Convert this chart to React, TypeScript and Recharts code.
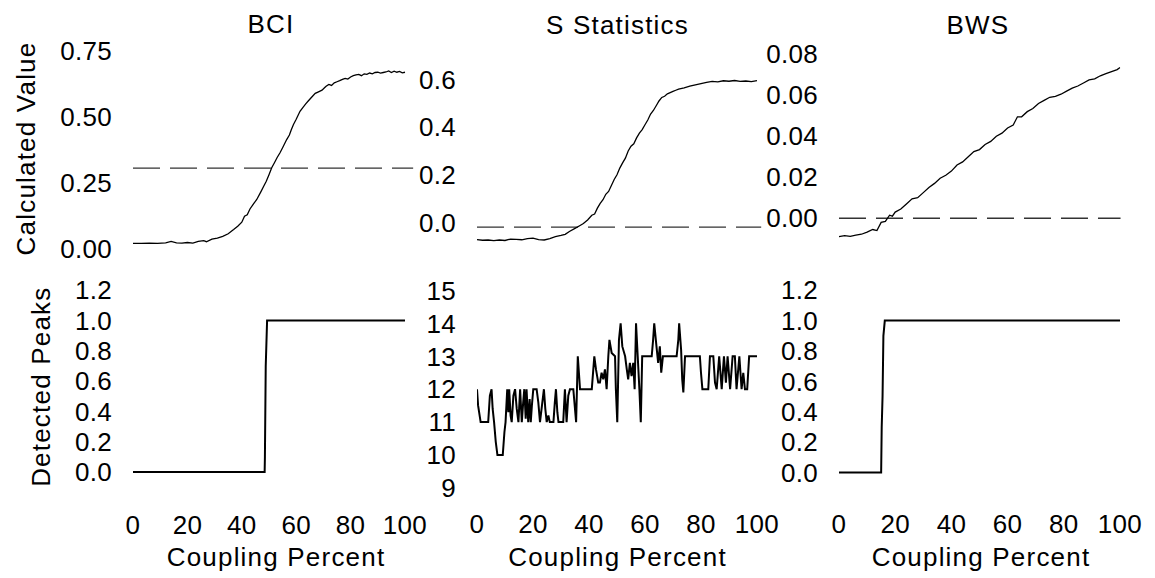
import React from 'react';
import { LineChart, Line, XAxis, YAxis, ReferenceLine } from 'recharts';

// ---------- data ----------
const couplingTicks = [0, 20, 40, 60, 80, 100];

const bciValue: [number, number][] = [
  [0, 0.02], [3, 0.02], [6, 0.021], [9, 0.02], [12, 0.022], [14, 0.027], [16, 0.022], [18, 0.021],
  [20, 0.023], [22, 0.021], [24, 0.027], [26, 0.03], [27, 0.026], [29, 0.036], [31, 0.04], [33, 0.046],
  [35, 0.056], [37, 0.072], [38.5, 0.085], [40, 0.1], [41, 0.123], [42, 0.128], [43, 0.15], [44.5, 0.172],
  [45.5, 0.186], [47, 0.215], [48, 0.235], [49, 0.255], [50, 0.28], [51, 0.306], [52, 0.325], [53, 0.345],
  [54, 0.362], [55, 0.382], [56.5, 0.413], [57.5, 0.43], [58.2, 0.45], [59, 0.47], [60, 0.49], [61.4, 0.52],
  [62.5, 0.535], [63.5, 0.548], [64.5, 0.56], [66, 0.577], [67, 0.588], [68, 0.593], [69.5, 0.6], [70.5, 0.61],
  [71, 0.615], [72, 0.622], [73, 0.618], [74, 0.628], [75, 0.632], [76, 0.636], [77, 0.641], [78, 0.645],
  [79, 0.642], [80, 0.65], [81, 0.655], [82, 0.658], [83, 0.66], [84, 0.655], [85, 0.662], [86, 0.66],
  [87, 0.665], [88, 0.662], [89, 0.667], [90, 0.668], [91, 0.665], [92, 0.667], [93, 0.669], [94, 0.673],
  [95, 0.667], [96, 0.672], [97, 0.668], [98, 0.671], [99, 0.666], [100, 0.668],
];
const bciThreshold = 0.305;

const sValue: [number, number][] = [
  [0, -0.072], [2, -0.075], [4, -0.074], [6, -0.077], [8, -0.074], [10, -0.076], [12, -0.07], [14, -0.071],
  [16, -0.073], [18, -0.068], [20, -0.066], [22, -0.072], [24, -0.074], [26, -0.068], [28, -0.06], [30, -0.055],
  [31.5, -0.05], [33, -0.038], [35, -0.025], [36.5, -0.015], [38, -0.005], [39.5, 0.01], [41, 0.03], [42, 0.035],
  [43, 0.06], [44, 0.08], [45, 0.095], [46, 0.118], [47, 0.13], [48, 0.155], [49, 0.18], [50, 0.2],
  [51, 0.228], [52, 0.25], [53, 0.27], [54, 0.3], [55, 0.32], [56, 0.33], [57, 0.355], [58, 0.375],
  [59, 0.39], [60, 0.41], [61, 0.43], [62, 0.455], [63, 0.47], [64, 0.49], [65, 0.51], [66, 0.525],
  [67, 0.53], [68, 0.54], [69, 0.545], [70, 0.55], [71, 0.555], [72, 0.56], [74, 0.565], [76, 0.572],
  [78, 0.578], [80, 0.583], [82, 0.588], [84, 0.592], [86, 0.59], [88, 0.595], [90, 0.593], [92, 0.596],
  [94, 0.592], [96, 0.594], [98, 0.591], [100, 0.596],
];
const sThreshold = -0.02;

const bwsValue: [number, number][] = [
  [0, -0.009], [2, -0.0085], [4, -0.0088], [6, -0.0082], [8, -0.0078], [10, -0.0068], [12, -0.0055], [13.5, -0.006],
  [15, -0.002], [16.5, -0.0015], [18, 0.0015], [19, 0.001], [20, 0.003], [22, 0.0045], [24, 0.007], [26, 0.0095],
  [28, 0.01], [30, 0.0125], [32, 0.015], [34, 0.017], [36, 0.0195], [38, 0.021], [40, 0.023], [42, 0.026],
  [44, 0.0275], [46, 0.03], [48, 0.0325], [50, 0.0335], [52, 0.036], [54, 0.0375], [56, 0.04], [58, 0.0415],
  [60, 0.044], [62, 0.0455], [63.5, 0.0495], [65, 0.0495], [67, 0.052], [69, 0.0535], [71, 0.056], [73, 0.0575],
  [75, 0.059], [77, 0.0595], [79, 0.0605], [81, 0.062], [83, 0.0635], [85, 0.0645], [87, 0.066], [89, 0.0675],
  [91, 0.068], [93, 0.0695], [95, 0.0705], [97, 0.0715], [99, 0.0725], [100, 0.0735],
];
const bwsThreshold = 0;

const bciPeaks: [number, number][] = [
  [0, 0], [48.4, 0], [48.5, 0.1], [48.8, 0.7], [49.3, 1], [100, 1],
];

const sPeaks: [number, number][] = [
  [0, 12], [0.4, 11.5], [1.3, 11], [4.0, 11], [4.6, 11.8], [5.2, 12], [5.6, 11.4], [6.1, 11],
  [6.7, 10.4], [7.3, 10], [9.2, 10], [9.8, 10.7], [10.2, 11], [10.8, 12], [11.2, 11.3], [11.5, 12],
  [12.0, 11.2], [12.4, 11], [13.0, 11.8], [13.6, 12], [14.2, 11.4], [14.8, 11], [15.4, 12], [16.0, 11],
  [16.5, 11.6], [16.9, 12], [17.4, 11.1], [17.7, 12], [18.3, 11], [18.8, 11.7], [19.2, 11], [19.6, 11.5],
  [20.1, 12], [21.3, 12], [21.9, 11.6], [22.5, 11], [23.2, 11.5], [23.9, 12], [24.4, 11.4], [24.9, 11],
  [25.5, 11.2], [26.0, 11], [27.3, 11], [27.8, 11.6], [28.2, 12], [28.7, 11.3], [29.1, 11], [30.8, 11],
  [31.4, 12], [32.0, 11], [32.6, 11.8], [33.2, 12], [34.4, 12], [35.0, 11.4], [35.4, 11], [36.0, 13],
  [36.4, 12.5], [36.8, 12], [41.0, 12], [41.9, 13], [42.5, 12.6], [43.3, 12.2], [43.9, 12.2], [44.5, 12.5],
  [45.1, 12.3], [45.7, 12.6], [46.3, 12], [46.9, 13], [47.3, 13.5], [48.1, 13.1], [49.3, 13], [49.6, 12],
  [50.1, 11], [50.7, 13.5], [51.3, 14], [51.9, 13.3], [52.9, 13], [53.5, 12.6], [54.0, 12.3], [54.6, 12.8],
  [55.2, 12.4], [55.8, 12.8], [56.3, 12], [56.8, 14], [57.4, 13], [58.0, 12], [58.5, 11], [59.0, 13],
  [62.4, 13], [62.9, 13.5], [63.3, 14], [64.1, 13.3], [64.7, 12.8], [65.3, 13.3], [65.8, 12.5], [66.4, 13],
  [71.3, 13], [71.9, 13.5], [72.2, 14], [72.9, 13.2], [73.3, 12.3], [73.7, 11.9], [74.3, 13], [79.6, 13],
  [80.0, 12.5], [80.5, 12], [82.6, 12], [83.2, 13], [84.4, 13], [85.0, 12.2], [85.6, 12], [86.5, 13],
  [87.4, 12], [88.2, 13], [88.9, 12.2], [89.5, 13], [90.4, 12], [91.3, 13], [92.1, 13], [92.7, 12],
  [93.7, 13], [94.5, 12], [95.1, 12.5], [95.7, 12], [96.5, 12], [97.2, 13], [100, 13],
];

const bwsPeaks: [number, number][] = [
  [0, 0], [15, 0], [15.2, 0.3], [15.5, 0.5], [15.8, 0.9], [16.3, 1], [100, 1],
];

const bciTicks = [0, 0.25, 0.5, 0.75];
const sTicks = [0, 0.2, 0.4, 0.6];
const bwsTicks = [0, 0.02, 0.04, 0.06, 0.08];
const peakTicks = [0, 0.2, 0.4, 0.6, 0.8, 1.0, 1.2];
const sPeakTicks = [9, 10, 11, 12, 13, 14, 15];

// ---------- rendering ----------
const FONT = '"Liberation Sans", Arial, Helvetica, sans-serif';
const toRows = (pts: [number, number][]) => pts.map(([x, y]) => ({ x, y }));

type PanelProps = {
  x0: number; x100: number; xMax: number; yTop: number; yBottom: number;
  yDomain: [number, number]; yTicks: number[]; digits: number;
  pts: [number, number][]; refY?: number; showX: boolean; sw: number;
};

const MT = 22;
const MR = 40;
const MB = 10;

function Panel(p: PanelProps) {
  const axisW = 110;
  const plotW = ((p.x100 - p.x0) * p.xMax) / 100;
  const plotH = p.yBottom - p.yTop;
  const xAxisH = p.showX ? 50 : 0;
  const tickStyle = { fill: '#000', fontSize: 26, fontFamily: FONT, letterSpacing: 0.3 };
  return (
    <div style={{ position: 'absolute', left: p.x0 - axisW, top: p.yTop - MT }}>
      <LineChart
        width={axisW + plotW + MR}
        height={plotH + xAxisH + MT + MB}
        data={toRows(p.pts)}
        margin={{ top: MT, right: MR, bottom: MB, left: 0 }}
      >
        <XAxis
          type="number"
          dataKey="x"
          domain={[0, p.xMax]}
          ticks={couplingTicks}
          interval={0}
          allowDataOverflow
          hide={!p.showX}
          height={xAxisH || 1}
          axisLine={false}
          tickLine={false}
          tickSize={0}
          tickMargin={515 - p.yBottom}
          tick={tickStyle}
        />
        <YAxis
          type="number"
          domain={p.yDomain}
          ticks={p.yTicks}
          interval={0}
          allowDataOverflow
          width={axisW}
          axisLine={false}
          tickLine={false}
          tickSize={0}
          tickMargin={21}
          tick={tickStyle}
          tickFormatter={(v: number) => v.toFixed(p.digits)}
        />
        {p.refY !== undefined && (
          <ReferenceLine y={p.refY} stroke="#333" strokeWidth={1.3} strokeDasharray="27 10" />
        )}
        <Line
          type="linear"
          dataKey="y"
          stroke="#000"
          strokeWidth={p.sw}
          dot={false}
          isAnimationActive={false}
        />
      </LineChart>
    </div>
  );
}

const labelStyle: React.CSSProperties = { fontFamily: FONT, fontSize: 26, letterSpacing: 1.2 };

export default function App() {
  return (
    <div style={{ position: 'absolute', left: 0, top: 0, width: 1155, height: 578, background: '#fff', overflow: 'hidden' }}>
      {/* top row */}
      <Panel x0={133} x100={405} xMax={103} yTop={44.4} yBottom={255.6} yDomain={[-0.025, 0.775]}
        yTicks={bciTicks} digits={2} pts={bciValue} refY={bciThreshold} showX={false} sw={1.3} />
      <Panel x0={477} x100={757} xMax={101.5} yTop={50.6} yBottom={245.8} yDomain={[-0.1, 0.72]}
        yTicks={sTicks} digits={1} pts={sValue} refY={sThreshold} showX={false} sw={1.3} />
      <Panel x0={839} x100={1120} xMax={100.2} yTop={43.75} yBottom={248.75} yDomain={[-0.015, 0.085]}
        yTicks={bwsTicks} digits={2} pts={bwsValue} refY={bwsThreshold} showX={false} sw={1.3} />
      {/* bottom row */}
      <Panel x0={133} x100={405} xMax={103} yTop={274.5} yBottom={486.7} yDomain={[-0.1, 1.3]}
        yTicks={peakTicks} digits={1} pts={bciPeaks} showX={true} sw={2} />
      <Panel x0={477} x100={757} xMax={101.5} yTop={274} yBottom={504.4} yDomain={[8.5, 15.5]}
        yTicks={sPeakTicks} digits={0} pts={sPeaks} showX={true} sw={2} />
      <Panel x0={839} x100={1120} xMax={100.2} yTop={275.4} yBottom={488.2} yDomain={[-0.1, 1.3]}
        yTicks={peakTicks} digits={1} pts={bwsPeaks} showX={true} sw={2} />

      <svg width={1155} height={578} style={{ position: 'absolute', left: 0, top: 0, pointerEvents: 'none' }}>
        <text x={271} y={33} textAnchor="middle" style={labelStyle}>BCI</text>
        <text x={617.5} y={34} textAnchor="middle" style={labelStyle}>S Statistics</text>
        <text x={978} y={34} textAnchor="middle" style={labelStyle}>BWS</text>
        <text x={35} y={148.5} textAnchor="middle" transform="rotate(-90 35 148.5)" style={labelStyle}>Calculated Value</text>
        <text x={50} y={386.7} textAnchor="middle" transform="rotate(-90 50 386.7)" style={labelStyle}>Detected Peaks</text>
        <text x={276} y={566} textAnchor="middle" style={labelStyle}>Coupling Percent</text>
        <text x={617.5} y={566} textAnchor="middle" style={labelStyle}>Coupling Percent</text>
        <text x={981} y={566} textAnchor="middle" style={labelStyle}>Coupling Percent</text>
      </svg>
    </div>
  );
}
